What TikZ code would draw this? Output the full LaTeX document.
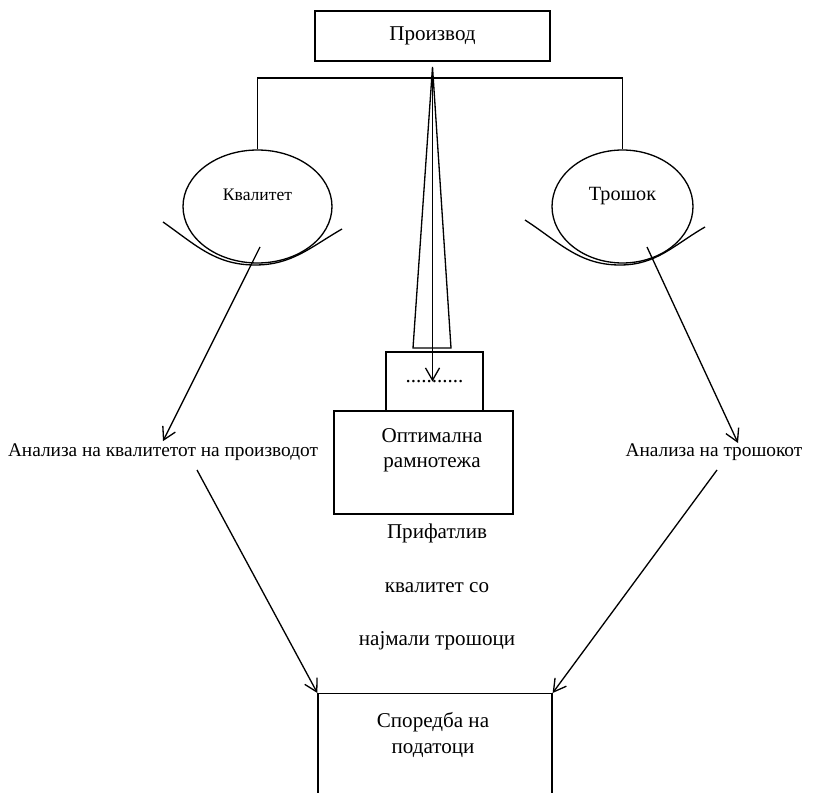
\documentclass[tikz,border=0pt]{standalone}
\usepackage{fontspec}
\setmainfont{Liberation Serif}
\usetikzlibrary{shapes.geometric,arrows.meta,positioning}

\begin{document}
\begin{tikzpicture}[x=0.02cm, y=-0.02cm,
  line width=0.75pt,
  box/.style={draw, inner sep=0pt},
  oval/.style={draw, ellipse, inner sep=0pt, minimum width=2.98cm, minimum height=2.26cm},
  txt/.style={font=\fontsize{12}{14.4}\selectfont, align=center, inner sep=1pt},
  side/.style={font=\fontsize{11}{13}\selectfont, inner sep=1pt},
  arr/.style={-{Straight Barb[length=7pt,width=8pt]}}]
  \useasboundingbox (0,0) rectangle (827,793);
  \clip (0,0) rectangle (827,793);

  % Top box and the bar to the two ovals
  \node[box, txt, minimum width=4.7cm, minimum height=1cm] (prod) at (432.5,36) {Производ};
  \node[oval] (qual) at (257.5,206.5) {};
  \node[font=\fontsize{10}{12}\selectfont] (qualt) at (257.5,195) {Квалитет};
  \node[oval, minimum width=2.82cm] (cost) at (622.5,206.5) {};
  \node[font=\fontsize{11.5}{13}\selectfont] (costt) at (622.5,196) {Трошок};
  \coordinate (bar) at (432.5,78);
  \draw (qual.north) |- (bar) -| (cost.north);

  % Bowls under the ovals
  \draw (163,222) to[out=-35, in=180] (255,265) to[out=0, in=-150] (342,229);
  \draw (525,220) to[out=-33, in=180] (620,265) to[out=0, in=-150] (705,227);

  % Funnel and middle arrow
  \coordinate (apex) at (432.5,67);
  \node[box, txt, minimum width=1.94cm, minimum height=1.18cm] (dots) at (434.5,381.5) {...........};
  \draw (apex) -- (413,348) -- (451,348) -- cycle;
  \draw[arr] (apex) -- (apex |- dots.center);

  % Middle boxes and texts
  \node[box, minimum width=3.58cm, minimum height=2.06cm] (opt) at (423.5,462.5) {};
  \node[txt] (optt) at (432,450) {Оптимална\\рамнотежа};
  \node[txt] (acc) at (437,587) {Прифатлив\\[16pt]квалитет со\\[16pt]најмали трошоци};
  \node[box, anchor=north, minimum width=4.68cm, minimum height=3cm] (cmp) at (435,693) {};
  \node[txt] (cmpt) at (433,735) {Споредба на\\податоци};

  % Side analyses
  \node[side] (qan) at (163,452) {Анализа на квалитетот на производот};
  \node[side] (can) at (714,452) {Анализа на трошокот};
  \coordinate (qs) at (260,247);
  \coordinate (cs) at (647,247);
  \coordinate (ce) at (738,443);
  \coordinate (qb) at (197,470);
  \coordinate (cb) at (717,470);
  \draw[arr] (qs) -- (qan.north);
  \draw[arr] (cs) -- (ce);
  \draw[arr] (qb) -- (cmp.north west);
  \draw[arr] (cb) -- (cmp.north east);
\end{tikzpicture}
\end{document}
